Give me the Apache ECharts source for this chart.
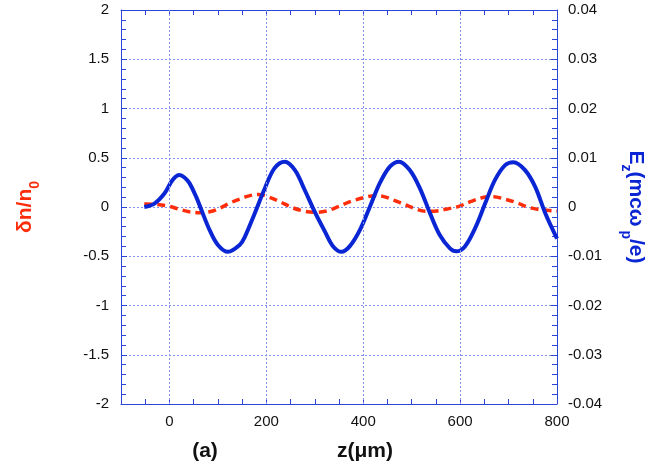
<!DOCTYPE html>
<html>
<head>
<meta charset="utf-8">
<script src="https://cdn.jsdelivr.net/npm/echarts@6/dist/echarts.min.js"></script>
<style>
  html, body { margin: 0; padding: 0; background: #fff; }
  #chart { width: 652px; height: 474px; }
</style>
</head>
<body>
<div id="chart"></div>
<script>
// Longitudinal field E_z (right axis, units of m c ω_p / e) versus z in µm
const zField = [-52, -31, -10, 3, 12, 21, 31, 41, 55, 66, 83, 100, 121, 145, 155, 176, 197, 217, 238, 259, 279, 300,
  321, 338, 355, 372, 393, 414, 434, 455, 474, 496, 517, 538, 558, 579, 592, 610, 631, 652, 672, 693,
  710, 734, 755, 776, 800];
const ezField = [0, 0.0007, 0.0028, 0.0050, 0.0061, 0.0065, 0.0060, 0.0049, 0.0021, -0.0006, -0.0047, -0.0077, -0.0091, -0.0077, -0.0062, -0.0013, 0.0038, 0.0079, 0.0092, 0.0075, 0.0035, -0.001,
  -0.005, -0.008, -0.0091, -0.008, -0.0047, 0.0001, 0.0048, 0.0082, 0.0092, 0.0075, 0.0038, -0.0013, -0.0057, -0.0084, -0.009, -0.008, -0.0043, 0.0008, 0.0055, 0.0085,
  0.0091, 0.0075, 0.0041, -0.0013, -0.0064];

// Density perturbation δn/n0 (left axis) versus z in µm
const zDensity = [-52, -31, -3, 21, 41, 62, 83, 103, 124, 145, 162, 183, 203, 228, 252, 276, 300, 324, 348, 369,
  379, 400, 424, 441, 462, 483, 507, 531, 552, 579, 596, 621, 645, 669, 693, 717, 741, 765, 800];
const dnDensity = [0.03, 0.027, 0.01, -0.024, -0.048, -0.058, -0.048, -0.014, 0.038, 0.081, 0.11, 0.128, 0.105, 0.054, -0.003, -0.04, -0.054, -0.04, 0.003, 0.048,
  0.064, 0.094, 0.115, 0.108, 0.071, 0.03, -0.017, -0.044, -0.04, -0.014, 0.003, 0.054, 0.094, 0.105, 0.078, 0.044, -0.003, -0.027, -0.04];

// Axis ranges and labelled positions
const zMin = -100, zMax = 800, zStep = 50;
const zLabelStep = 200;
const zGridLines = [0, 200, 400, 600];
const dnMin = -2, dnMax = 2, dnStep = 0.5;
const ezMin = -0.04, ezMax = 0.04, ezStep = 0.01;

const FONT = '"Liberation Sans", Arial, Helvetica, sans-serif';
const AXIS_BLUE = '#2b46d6';
const GRID_BLUE = '#8393e8';
const FIELD_BLUE = '#0a26d4';
const DENSITY_RED = '#ff2d0a';

const pairs = (xs, ys) => xs.map((x, i) => [x, ys[i]]);

const frameLine = { show: true, onZero: false, lineStyle: { color: AXIS_BLUE, width: 1 } };
const frameTick = { show: true, inside: true, length: 6, lineStyle: { color: AXIS_BLUE } };
const frameMinor = { show: true, splitNumber: 5, length: 5, lineStyle: { color: AXIS_BLUE } };

const chart = echarts.init(document.getElementById('chart'), null, { renderer: 'canvas' });

chart.setOption({
  animation: false,
  backgroundColor: '#ffffff',
  grid: { left: 121, right: 95, top: 10, bottom: 70, containLabel: false },
  xAxis: [
    {
      type: 'value', position: 'bottom', min: zMin, max: zMax, interval: zStep,
      axisLine: frameLine,
      axisTick: { show: true, inside: true, length: 5, lineStyle: { color: AXIS_BLUE } },
      axisLabel: {
        color: '#111', fontSize: 15, fontFamily: FONT, margin: 10,
        formatter: v => (v % zLabelStep === 0 ? String(v) : '')
      },
      splitLine: { show: false }
    },
    {
      type: 'value', position: 'top', min: zMin, max: zMax, interval: zStep,
      axisLine: frameLine,
      axisTick: { show: true, inside: true, length: 5, lineStyle: { color: AXIS_BLUE } },
      axisLabel: { show: false },
      splitLine: { show: false }
    }
  ],
  yAxis: [
    {
      type: 'value', position: 'left', min: dnMin, max: dnMax, interval: dnStep,
      axisLine: frameLine, axisTick: frameTick, minorTick: frameMinor,
      axisLabel: {
        color: '#111', fontSize: 15, fontFamily: FONT, margin: 12,
        formatter: v => String(v)
      },
      splitLine: { show: true, lineStyle: { color: GRID_BLUE, type: [2, 2], width: 1 } }
    },
    {
      type: 'value', position: 'right', min: ezMin, max: ezMax, interval: ezStep,
      axisLine: frameLine, axisTick: frameTick, minorTick: frameMinor,
      axisLabel: {
        color: '#111', fontSize: 15, fontFamily: FONT, margin: 11,
        formatter: v => String(Math.round(v * 100) / 100)
      },
      splitLine: { show: false }
    }
  ],
  series: [
    {
      name: 'δn/n0', type: 'line', xAxisIndex: 0, yAxisIndex: 0,
      data: pairs(zDensity, dnDensity),
      smooth: 0.35, showSymbol: false, symbol: 'none', z: 3,
      lineStyle: { color: DENSITY_RED, width: 3.5, type: [8, 5] },
      markLine: {
        silent: true, symbol: 'none', animation: false,
        label: { show: false },
        lineStyle: { color: GRID_BLUE, type: [2, 2], width: 1 },
        data: zGridLines.map(v => ({ xAxis: v }))
      }
    },
    {
      name: 'Ez', type: 'line', xAxisIndex: 0, yAxisIndex: 1,
      data: pairs(zField, ezField),
      smooth: 0.35, showSymbol: false, symbol: 'none', z: 4,
      lineStyle: { color: FIELD_BLUE, width: 4 }
    }
  ],
  graphic: [
    {
      type: 'text', x: 25, y: 207, rotation: Math.PI / 2,
      style: {
        text: '{m|δn/n}{s|0}',
        align: 'center', verticalAlign: 'middle',
        fontFamily: FONT,
        rich: {
          m: { fontSize: 21, fontWeight: 'bold', fill: DENSITY_RED, fontFamily: FONT, lineHeight: 22, verticalAlign: 'middle' },
          s: { fontSize: 14, fontWeight: 'bold', fill: DENSITY_RED, fontFamily: FONT, lineHeight: 34, verticalAlign: 'bottom' }
        }
      }
    },
    {
      type: 'text', x: 636, y: 207, rotation: -Math.PI / 2,
      style: {
        text: '{m|E}{s|z}{m|(mcω}{s| p}{m|/e)}',
        align: 'center', verticalAlign: 'middle',
        fontFamily: FONT,
        rich: {
          m: { fontSize: 21, fontWeight: 'bold', fill: FIELD_BLUE, fontFamily: FONT, lineHeight: 22, verticalAlign: 'middle' },
          s: { fontSize: 14, fontWeight: 'bold', fill: FIELD_BLUE, fontFamily: FONT, lineHeight: 34, verticalAlign: 'bottom' }
        }
      }
    },
    {
      type: 'text', x: 365, y: 451,
      style: { text: 'z(μm)', align: 'center', verticalAlign: 'middle', font: 'bold 21px ' + FONT, fill: '#111' }
    },
    {
      type: 'text', x: 205, y: 451,
      style: { text: '(a)', align: 'center', verticalAlign: 'middle', font: 'bold 21px ' + FONT, fill: '#111' }
    }
  ]
});
</script>
</body>
</html>
